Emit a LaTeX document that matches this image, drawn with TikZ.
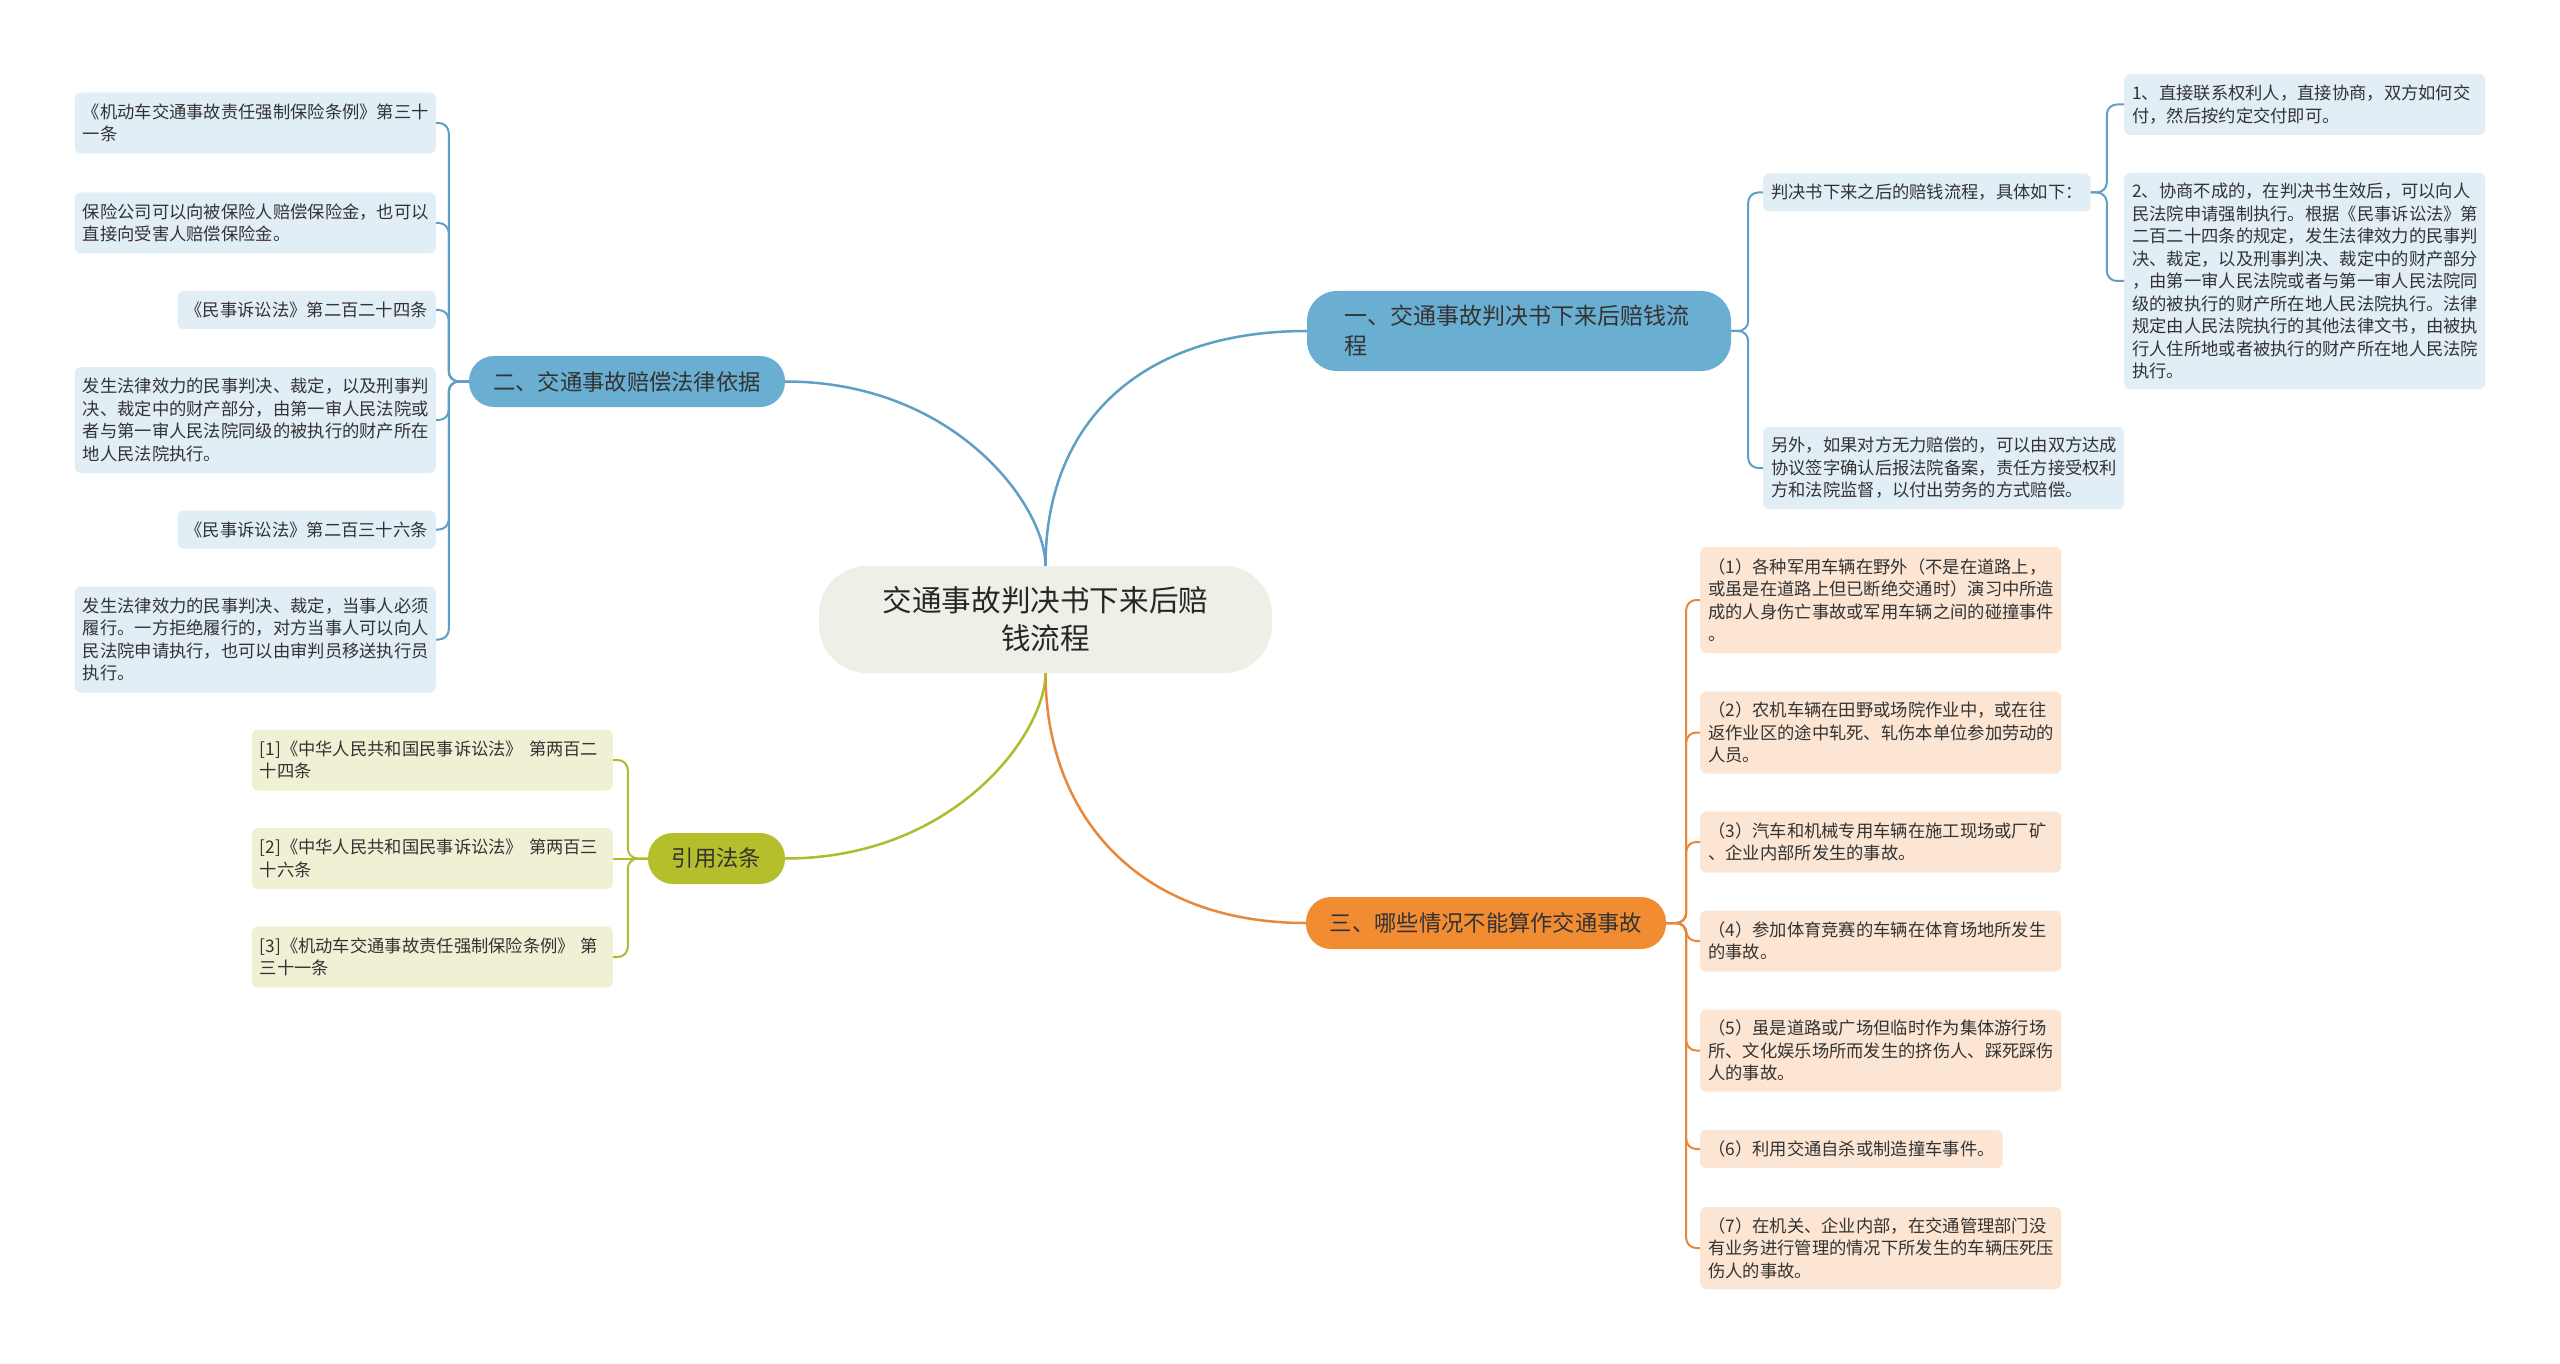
\documentclass[tikz,border=0pt]{standalone}
\usepackage{fontspec}
\setmainfont{Noto Sans CJK SC}
\usetikzlibrary{positioning,calc}

\definecolor{ink}{HTML}{333333}
\definecolor{rootfill}{HTML}{EFEFE7}
\definecolor{bluemain}{HTML}{6AAED2}
\definecolor{bluesoft}{HTML}{E2EEF6}
\definecolor{blueedge}{HTML}{5F9FC5}
\definecolor{orangemain}{HTML}{F28C33}
\definecolor{orangesoft}{HTML}{FCE5D3}
\definecolor{orangeedge}{HTML}{E8883A}
\definecolor{olivemain}{HTML}{B5BF2C}
\definecolor{olivesoft}{HTML}{F0F1D4}
\definecolor{oliveedge}{HTML}{B0BB2B}

\begin{document}
\begin{tikzpicture}[
  x=1pt, y=-1pt,
  text=ink,
  line/.style={line width=2.5pt},
  fork/.style={line width=2pt, rounded corners=10pt},
  topic/.style={
    rounded corners=25pt,
    inner sep=0pt,
    minimum height=51pt,
    align=center,
    font=\fontsize{22.3}{30}\selectfont
  },
  leaf/.style={
    rounded corners=6pt,
    inner xsep=8pt,
    inner ysep=2pt,
    align=left,
    font=\fontsize{17.3}{22.5}\selectfont
  },
  wide/.style={text width=345pt},
  one/.style={minimum height=38pt},
  two/.style={minimum height=61pt},
  three/.style={minimum height=82pt},
  four/.style={minimum height=106pt},
  nine/.style={minimum height=216pt}
]

\fill[white] (0,0) rectangle (2560,1364);
\useasboundingbox (0,0) rectangle (2560,1364);

\node[fill=rootfill, rounded corners=48pt, minimum width=453pt, minimum height=107pt,
  inner sep=0pt, align=center, text=black!85, font=\fontsize{29.6}{38}\selectfont]
  (root) at (1045.5,619.5) {交通事故判决书下来后赔\\钱流程};

\node[topic, fill=bluemain, rounded corners=30pt, minimum height=80pt, text width=350pt,
  inner xsep=37pt, align=left, font=\fontsize{23}{30}\selectfont]
  (proc) at (1519,331) {一、交通事故判决书下来后赔钱流\\程};
\node[topic, fill=bluemain, minimum width=316pt] (basis) at (627,381.5) {二、交通事故赔偿法律依据};
\node[topic, fill=orangemain, minimum width=360pt, minimum height=52pt] (cases) at (1486,923) {三、哪些情况不能算作交通事故};
\node[topic, fill=olivemain, minimum width=137pt] (refs) at (716.5,858.5) {引用法条};

\node[leaf, one, fill=bluesoft, anchor=west] (flow) at (1763,192.5) {判决书下来之后的赔钱流程，具体如下：};
\node[leaf, two, wide, fill=bluesoft, anchor=west] (flowA) at (2124,104.5)
  {1、直接联系权利人，直接协商，双方如何交\\付，然后按约定交付即可。};
\node[leaf, nine, wide, fill=bluesoft, anchor=west] (flowB) at (2124,281)
  {2、协商不成的，在判决书生效后，可以向人\\民法院申请强制执行。根据《民事诉讼法》第\\二百二十四条的规定，发生法律效力的民事判\\决、裁定，以及刑事判决、裁定中的财产部分\\，由第一审人民法院或者与第一审人民法院同\\级的被执行的财产所在地人民法院执行。法律\\规定由人民法院执行的其他法律文书，由被执\\行人住所地或者被执行的财产所在地人民法院\\执行。};
\node[leaf, three, wide, fill=bluesoft, anchor=west] (extra) at (1763,468)
  {另外，如果对方无力赔偿的，可以由双方达成\\协议签字确认后报法院备案，责任方接受权利\\方和法院监督，以付出劳务的方式赔偿。};

\node[leaf, two, wide, fill=bluesoft, anchor=east] (law1) at (436,123)
  {《机动车交通事故责任强制保险条例》第三十\\一条};
\node[leaf, two, wide, fill=bluesoft, anchor=east] (law2) at (436,223)
  {保险公司可以向被保险人赔偿保险金，也可以\\直接向受害人赔偿保险金。};
\node[leaf, one, fill=bluesoft, anchor=east] (law3) at (436,310) {《民事诉讼法》第二百二十四条};
\node[leaf, four, wide, fill=bluesoft, anchor=east] (law4) at (436,420)
  {发生法律效力的民事判决、裁定，以及刑事判\\决、裁定中的财产部分，由第一审人民法院或\\者与第一审人民法院同级的被执行的财产所在\\地人民法院执行。};
\node[leaf, one, fill=bluesoft, anchor=east] (law5) at (436,529.5) {《民事诉讼法》第二百三十六条};
\node[leaf, four, wide, fill=bluesoft, anchor=east] (law6) at (436,639.5)
  {发生法律效力的民事判决、裁定，当事人必须\\履行。一方拒绝履行的，对方当事人可以向人\\民法院申请执行，也可以由审判员移送执行员\\执行。};

\node[leaf, two, wide, fill=olivesoft, anchor=east] (ref1) at (613,760)
  {[1]《中华人民共和国民事诉讼法》 第两百二\\十四条};
\node[leaf, two, wide, fill=olivesoft, anchor=east] (ref2) at (613,858.5)
  {[2]《中华人民共和国民事诉讼法》 第两百三\\十六条};
\node[leaf, two, wide, fill=olivesoft, anchor=east] (ref3) at (613,957)
  {[3]《机动车交通事故责任强制保险条例》 第\\三十一条};

\node[leaf, four, wide, fill=orangesoft, anchor=west] (case1) at (1700,600)
  {（1）各种军用车辆在野外（不是在道路上，\\或虽是在道路上但已断绝交通时）演习中所造\\成的人身伤亡事故或军用车辆之间的碰撞事件\\。};
\node[leaf, three, wide, fill=orangesoft, anchor=west] (case2) at (1700,732.5)
  {（2）农机车辆在田野或场院作业中，或在往\\返作业区的途中轧死、轧伤本单位参加劳动的\\人员。};
\node[leaf, two, wide, fill=orangesoft, anchor=west] (case3) at (1700,842)
  {（3）汽车和机械专用车辆在施工现场或厂矿\\、企业内部所发生的事故。};
\node[leaf, two, wide, fill=orangesoft, anchor=west] (case4) at (1700,941)
  {（4）参加体育竞赛的车辆在体育场地所发生\\的事故。};
\node[leaf, three, wide, fill=orangesoft, anchor=west] (case5) at (1700,1050.5)
  {（5）虽是道路或广场但临时作为集体游行场\\所、文化娱乐场所而发生的挤伤人、踩死踩伤\\人的事故。};
\node[leaf, one, fill=orangesoft, anchor=west] (case6) at (1700,1149) {（6）利用交通自杀或制造撞车事件。};
\node[leaf, three, wide, fill=orangesoft, anchor=west] (case7) at (1700,1248)
  {（7）在机关、企业内部，在交通管理部门没\\有业务进行管理的情况下所发生的车辆压死压\\伤人的事故。};

\draw[line, blueedge] (root.north) .. controls +(0,-140) and +(-170,0) .. (proc.west);
\draw[line, blueedge] (root.north) .. controls +(0,-60) and +(170,0) .. (basis.east);
\draw[line, orangeedge] (root.south) .. controls +(0,140) and +(-170,0) .. (cases.west);
\draw[line, oliveedge] (root.south) .. controls +(0,60) and +(170,0) .. (refs.east);

\coordinate (procfork) at ($(proc.east)+(17,0)$);
\foreach \k in {flow,extra}
  \draw[fork, blueedge] (proc.east) -- (procfork) |- (\k.west);
\coordinate (flowfork) at ($(flow.east)+(16,0)$);
\foreach \k in {flowA,flowB}
  \draw[fork, blueedge] (flow.east) -- (flowfork) |- (\k.west);
\coordinate (basisfork) at ($(basis.west)+(-20,0)$);
\foreach \k in {1,...,6}
  \draw[fork, blueedge] (basis.west) -- (basisfork) |- (law\k.east);
\coordinate (casesfork) at ($(cases.east)+(20,0)$);
\foreach \k in {1,...,7}
  \draw[fork, orangeedge] (cases.east) -- (casesfork) |- (case\k.west);
\coordinate (refsfork) at ($(refs.west)+(-20,0)$);
\foreach \k in {1,3}
  \draw[fork, oliveedge] (refs.west) -- (refsfork) |- (ref\k.east);
\draw[fork, oliveedge] (refs.west) -- (ref2.east);

\end{tikzpicture}
\end{document}
